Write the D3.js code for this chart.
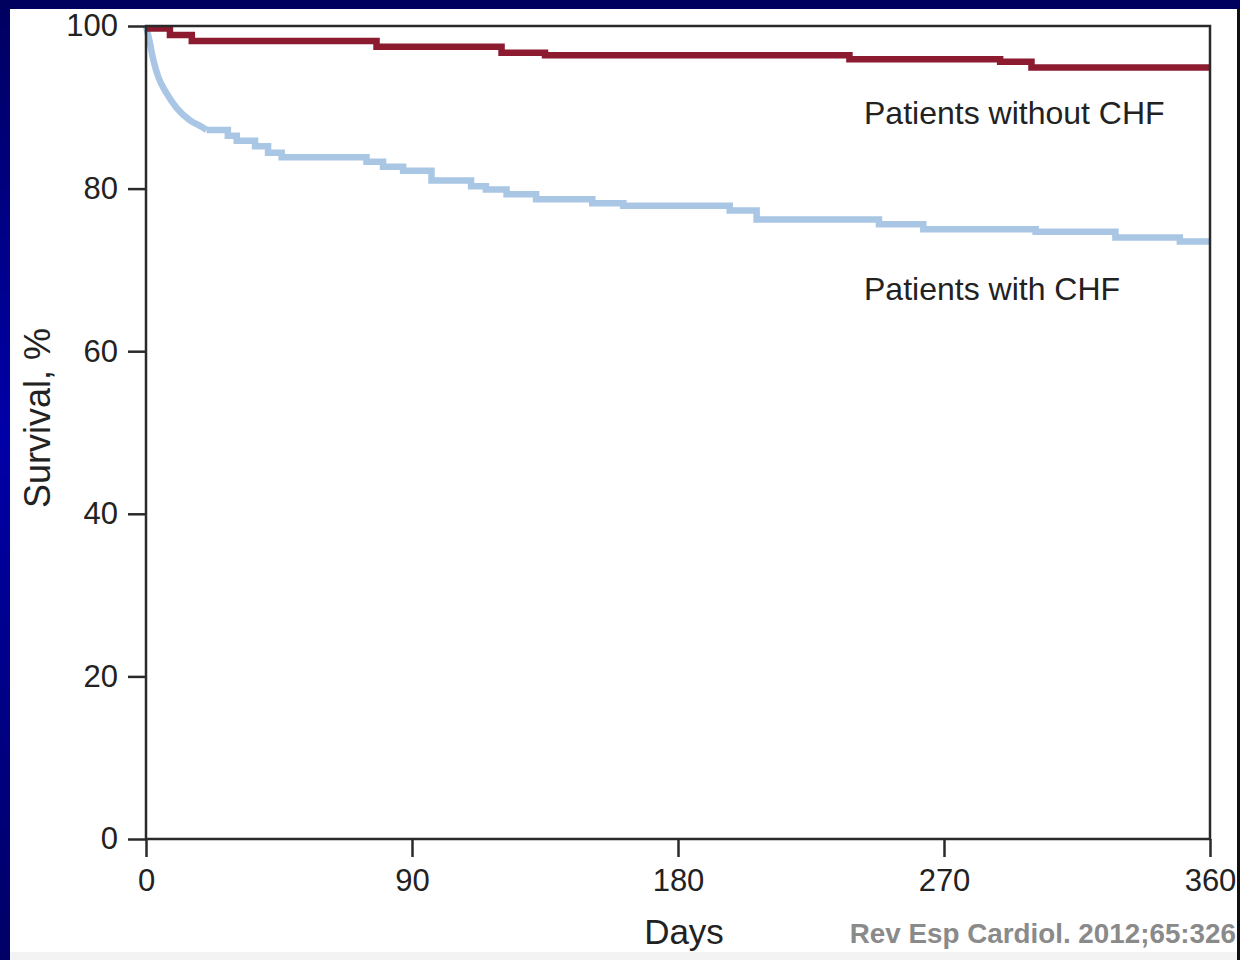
<!DOCTYPE html>
<html>
<head>
<meta charset="utf-8">
<script src="https://cdn.jsdelivr.net/npm/d3@7"></script>
<style>
  html, body { margin: 0; padding: 0; background: #ffffff; }
  svg { display: block; }
</style>
</head>
<body>
<svg id="chart" width="1240" height="960"></svg>
<script>
// ---------- data ----------
const xTicks = [0, 90, 180, 270, 360];
const yTicks = [0, 20, 40, 60, 80, 100];

// Patients without CHF (Kaplan–Meier steps)
const noChfDays = [0, 8.1, 15.5, 78, 120.3, 135, 238, 289, 299.6, 360];
const noChfSurv = [99.7, 98.9, 98.15, 97.45, 96.7, 96.4, 95.9, 95.6, 94.9, 94.9];

// Patients with CHF: early (dense, smooth-looking) part
const chfEarlyDays = [0, 1.1, 2.5, 4.2, 7.0, 10.4, 14.9, 18.8, 20.5];
const chfEarlySurv = [100, 98.3, 95.8, 93.7, 91.7, 89.9, 88.4, 87.6, 87.2];
// Patients with CHF: later step part
const chfStepDays = [20.5, 27.7, 30.7, 36.9, 41.3, 45.9, 74.6, 80.2, 87, 96.6, 110, 115, 122, 132, 151, 161.5, 197.5, 206.6, 248, 263, 301, 328, 349.8, 360];
const chfStepSurv = [87.2, 86.5, 85.9, 85.2, 84.4, 83.85, 83.3, 82.7, 82.2, 81.0, 80.3, 79.9, 79.3, 78.7, 78.2, 77.9, 77.3, 76.2, 75.6, 75.0, 74.7, 74.0, 73.5, 73.5];

const labels = { noChf: "Patients without CHF", chf: "Patients with CHF" };
const xTitle = "Days";
const yTitle = "Survival, %";
const citation = "Rev Esp Cardiol. 2012;65:326";

// ---------- layout ----------
const W = 1240, H = 960;
const plot = { left: 146, right: 1210, top: 26, bottom: 839 };
const font = "'Liberation Sans', Arial, Helvetica, sans-serif";

const svg = d3.select("#chart");

// background frame (slide border)
const defs = svg.append("defs");
const grad = defs.append("linearGradient").attr("id", "leftGrad")
  .attr("x1", 0).attr("y1", 0).attr("x2", 0).attr("y2", 1);
grad.append("stop").attr("offset", "0%").attr("stop-color", "#000060");
grad.append("stop").attr("offset", "45%").attr("stop-color", "#0000a8");
grad.append("stop").attr("offset", "100%").attr("stop-color", "#000066");

svg.append("rect").attr("x", 0).attr("y", 0).attr("width", W).attr("height", H).attr("fill", "#ffffff");
svg.append("rect").attr("x", 0).attr("y", 952).attr("width", W).attr("height", 8).attr("fill", "#f3f3f3");
svg.append("rect").attr("x", 0).attr("y", 0).attr("width", W).attr("height", 9).attr("fill", "#00005e");
svg.append("rect").attr("x", 0).attr("y", 0).attr("width", 10).attr("height", H).attr("fill", "url(#leftGrad)");
svg.append("rect").attr("x", 1237).attr("y", 9).attr("width", 3).attr("height", H - 9).attr("fill", "#111111");

// scales
const x = d3.scaleLinear().domain([0, 360]).range([plot.left, plot.right]);
const y = d3.scaleLinear().domain([0, 100]).range([plot.bottom, plot.top]);

// curves
const stepLine = d3.line().x(d => x(d[0])).y(d => y(d[1])).curve(d3.curveStepAfter);
const smoothLine = d3.line().x(d => x(d[0])).y(d => y(d[1])).curve(d3.curveMonotoneX);

const noChf = noChfDays.map((d, i) => [d, noChfSurv[i]]);
const chfEarly = chfEarlyDays.map((d, i) => [d, chfEarlySurv[i]]);
const chfSteps = chfStepDays.map((d, i) => [d, chfStepSurv[i]]);

const blue = "#a9c6e4", red = "#8c1b30";

svg.append("path").attr("d", smoothLine(chfEarly))
  .attr("fill", "none").attr("stroke", blue).attr("stroke-width", 6.5).attr("stroke-linecap", "butt");
svg.append("path").attr("d", stepLine(chfSteps))
  .attr("fill", "none").attr("stroke", blue).attr("stroke-width", 6.5);
svg.append("path").attr("d", stepLine(noChf))
  .attr("fill", "none").attr("stroke", red).attr("stroke-width", 6.5);

// frame
svg.append("rect")
  .attr("x", plot.left).attr("y", plot.top)
  .attr("width", plot.right - plot.left).attr("height", plot.bottom - plot.top)
  .attr("fill", "none").attr("stroke", "#2a2a2a").attr("stroke-width", 2.5);

// axes
const axisColor = "#2a2a2a";
const yAxis = svg.append("g").attr("transform", `translate(${plot.left},0)`)
  .call(d3.axisLeft(y).tickValues(yTicks).tickSize(18).tickPadding(10).tickFormat(d3.format("d")));
const xAxis = svg.append("g").attr("transform", `translate(0,${plot.bottom})`)
  .call(d3.axisBottom(x).tickValues(xTicks).tickSize(18).tickPadding(12).tickFormat(d3.format("d")));
[yAxis, xAxis].forEach(g => {
  g.select(".domain").remove();
  g.selectAll(".tick line").attr("stroke", axisColor).attr("stroke-width", 2.5);
  g.selectAll(".tick text").attr("fill", "#222").style("font-family", font).style("font-size", "31px");
});

// series labels
svg.append("text").attr("x", 864).attr("y", 124).text(labels.noChf)
  .style("font-family", font).style("font-size", "32px").attr("fill", "#222");
svg.append("text").attr("x", 864).attr("y", 300).text(labels.chf)
  .style("font-family", font).style("font-size", "32px").attr("fill", "#222");

// axis titles
svg.append("text").attr("x", 684).attr("y", 944).attr("text-anchor", "middle").text(xTitle)
  .style("font-family", font).style("font-size", "35px").attr("fill", "#222");
svg.append("text").attr("transform", "translate(50,418) rotate(-90)").attr("text-anchor", "middle").text(yTitle)
  .style("font-family", font).style("font-size", "36px").attr("fill", "#222");

// citation
svg.append("text").attr("x", 1236).attr("y", 943).attr("text-anchor", "end").text(citation)
  .style("font-family", font).style("font-size", "27.8px").style("font-weight", "bold").attr("fill", "#8a8a8a");
</script>
</body>
</html>
